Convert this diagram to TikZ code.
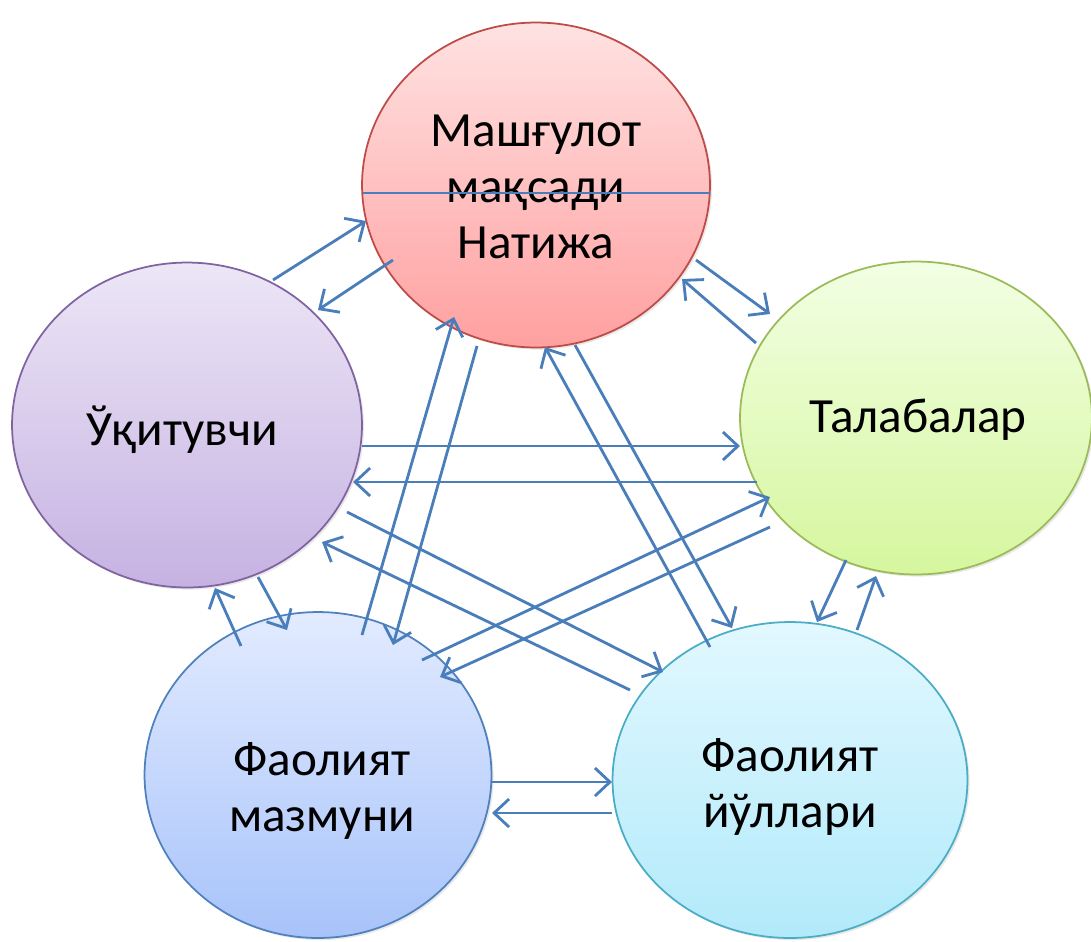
\documentclass[tikz,border=0pt]{standalone}
\usepackage{fontspec}
\setmainfont{Carlito}
\usetikzlibrary{arrows.meta, shadows, shapes.geometric}

\definecolor{linkblue}{RGB}{74,126,187}

\begin{document}
\begin{tikzpicture}[x=0.02cm, y=-0.02cm,
  font=\fontsize{28}{32}\selectfont,
  bubble/.style={ellipse, draw, line width=1pt, inner sep=0pt,
    drop shadow={opacity=0.18, shadow xshift=1.2pt, shadow yshift=-1.2pt}},
  caption/.style={align=center, inner sep=0pt},
  link/.style={linkblue, line width=1.6pt, -{Straight Barb[length=3mm, width=5.6mm, line width=1.6pt]}}]

\useasboundingbox (0,0) rectangle (1091,941);

% the five circles
\node[bubble, minimum width=6.96cm, minimum height=6.5cm, draw={rgb,255:red,190;green,75;blue,72},
  top color={rgb,255:red,255;green,226;blue,226}, bottom color={rgb,255:red,255;green,160;blue,160}]
  (goal) at (536,185) {};
\node[bubble, minimum width=7cm, minimum height=6.5cm, draw={rgb,255:red,128;green,100;blue,162},
  top color={rgb,255:red,236;green,230;blue,246}, bottom color={rgb,255:red,198;green,178;blue,226}]
  (teacher) at (187,425) {};
\node[bubble, minimum width=7.04cm, minimum height=6.26cm, draw={rgb,255:red,155;green,187;blue,89},
  top color={rgb,255:red,242;green,255;blue,228}, bottom color={rgb,255:red,214;green,246;blue,158}]
  (students) at (916,418) {};
\node[bubble, minimum width=6.94cm, minimum height=6.52cm, draw={rgb,255:red,79;green,129;blue,189},
  top color={rgb,255:red,226;green,235;blue,255}, bottom color={rgb,255:red,168;green,195;blue,250}]
  (content) at (318,775) {};
\node[bubble, minimum width=7.1cm, minimum height=6.32cm, draw={rgb,255:red,75;green,172;blue,198},
  top color={rgb,255:red,226;green,248;blue,255}, bottom color={rgb,255:red,178;green,234;blue,250}]
  (methods) at (790,780) {};

% texts
\node[caption] (goaltext) at (536,187) {Машғулот\\мақсади\\Натижа};
\node[caption] (teachertext) at (182,430) {Ўқитувчи};
\node[caption] (studentstext) at (918,420) {Талабалар};
\node[caption] (contenttext) at (322,791) {Фаолият\\мазмуни};
\node[caption] (methodstext) at (790,787) {Фаолият\\йўллари};

% line through the goal circle
\path
(363,193) coordinate (cutleft)
(710,193) coordinate (cutright)
;
\draw[linkblue, line width=0.8pt] (cutleft) -- (cutright);

% ends of the arrows
\path
(273,280) coordinate (tg1) (366,221) coordinate (tg2)
(393,260) coordinate (gt1) (318,310) coordinate (gt2)
(696,260) coordinate (gs1) (770,314) coordinate (gs2)
(756,343) coordinate (sg1) (682,279) coordinate (sg2)
(362,446) coordinate (ts1) (740,446) coordinate (ts2)
(757,482) coordinate (st1) (353,482) coordinate (st2)
(241,646) coordinate (ct1) (215,588) coordinate (ct2)
(258,577) coordinate (tc1) (287,630) coordinate (tc2)
(846,560) coordinate (sm1) (817,622) coordinate (sm2)
(857,630) coordinate (ms1) (876,576) coordinate (ms2)
(491,782) coordinate (cm1) (612,782) coordinate (cm2)
(612,813) coordinate (mc1) (492,813) coordinate (mc2)
(362,635) coordinate (cg1) (454,317) coordinate (cg2)
(477,346) coordinate (gc1) (393,645) coordinate (gc2)
(710,647) coordinate (mg1) (545,347) coordinate (mg2)
(575,345) coordinate (gm1) (732,628) coordinate (gm2)
(347,512) coordinate (tm1) (663,672) coordinate (tm2)
(630,690) coordinate (mt1) (322,542) coordinate (mt2)
(422,660) coordinate (cs1) (770,497) coordinate (cs2)
(770,527) coordinate (sc1) (440,677) coordinate (sc2)
;

% arrows
\foreach \pair in {tg,gt,gs,sg,ts,st,ct,tc,sm,ms,cm,mc,cg,gc,mg,gm,tm,mt,cs,sc}
  \draw[link] (\pair1) -- (\pair2);

\end{tikzpicture}
\end{document}
